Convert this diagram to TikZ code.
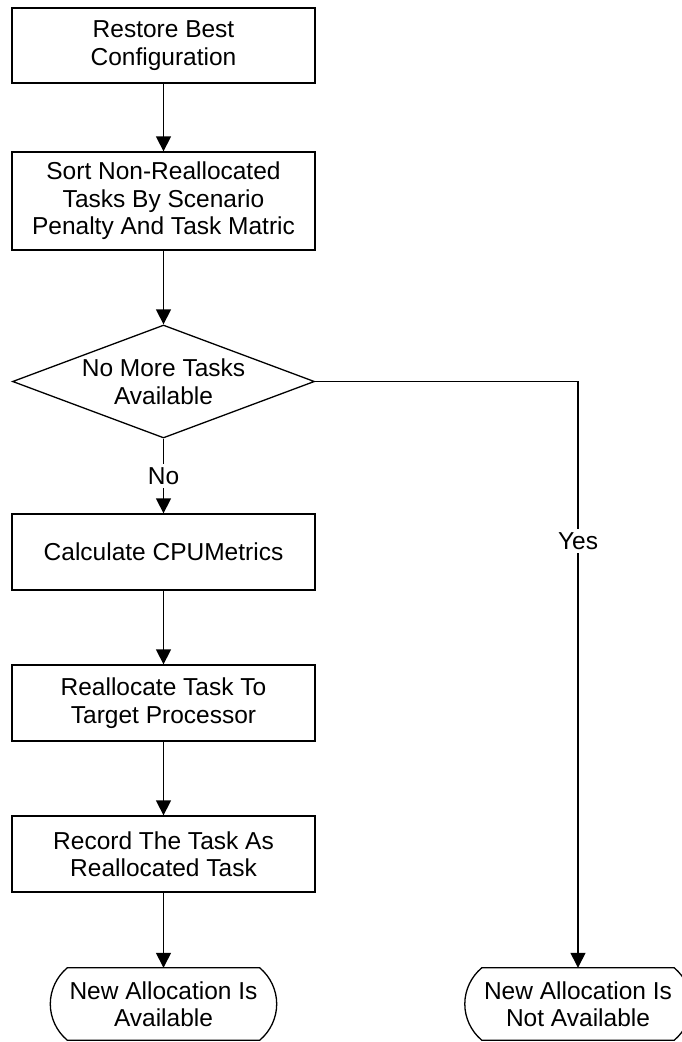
\documentclass[tikz,border=0pt]{standalone}
\usepackage{fontspec}
\setmainfont{Liberation Sans}
\usetikzlibrary{arrows.meta,shapes.geometric,calc}
\begin{document}
\begin{tikzpicture}[x=1pt,y=-1pt,
  every node/.style={font=\fontsize{24.5}{27.5}\selectfont},
  stepbox/.style={draw, line width=1.3pt, minimum width=303pt, minimum height=75pt, inner sep=0pt, align=center},
  decision/.style={draw, diamond, aspect=2.67, line width=1.3pt, minimum width=302pt, minimum height=113pt, inner sep=0pt, align=center},
  endbox/.style={minimum width=226pt, minimum height=72pt, inner sep=0pt, align=center},
  outline/.style={line width=1.3pt},
  flow/.style={line width=1.3pt, -{Triangle[length=15pt,width=15pt]}},
  lbl/.style={fill=white, inner sep=3pt}
]
\useasboundingbox (0,0) rectangle (682,1042);

% process steps
\node[stepbox] (b1) at (163.5,45.5) {Restore Best\\Configuration};
\node[stepbox, minimum height=98pt] (b2) at (163.5,201) {Sort Non-Reallocated\\Tasks By Scenario\\Penalty And Task Matric};
\node[decision] (d) at (163.5,381.5) {No More Tasks\\Available};
\node[stepbox, minimum height=76pt] (b3) at (163.5,552) {Calculate CPUMetrics};
\node[stepbox, minimum height=76pt] (b4) at (163.5,703) {Reallocate Task To\\Target Processor};
\node[stepbox, minimum height=76pt] (b5) at (163.5,854) {Record The Task As\\Reallocated Task};

% terminators: flat top and bottom, arc-shaped sides
\node[endbox] (t1) at (163.5,1004) {New Allocation Is\\Available};
\node[endbox] (t2) at (578,1004) {New Allocation Is\\Not Available};
\foreach \t in {t1,t2}
  \draw[outline] ($(\t.north west)+(17,0)$) -- ($(\t.north east)+(-17,0)$)
    .. controls ($(\t.north east)+(-6.3,8.9)$) and ($(\t.east)+(0,-13.9)$) .. (\t.east)
    .. controls ($(\t.east)+(0,13.9)$) and ($(\t.south east)+(-6.3,-8.9)$) .. ($(\t.south east)+(-17,0)$)
    -- ($(\t.south west)+(17,0)$)
    .. controls ($(\t.south west)+(6.3,-8.9)$) and ($(\t.west)+(0,13.9)$) .. (\t.west)
    .. controls ($(\t.west)+(0,-13.9)$) and ($(\t.north west)+(6.3,8.9)$) .. cycle;

% connectors
\draw[flow] (b1) -- (b2);
\draw[flow] (b2) -- (d);
\draw[flow] (d) -- node[lbl]{No} (b3);
\draw[flow] (b3) -- (b4);
\draw[flow] (b4) -- (b5);
\draw[flow] (b5) -- (t1);
\draw[flow] (d.east) -| node[lbl, pos=0.636]{Yes} (t2.north);
\end{tikzpicture}
\end{document}
